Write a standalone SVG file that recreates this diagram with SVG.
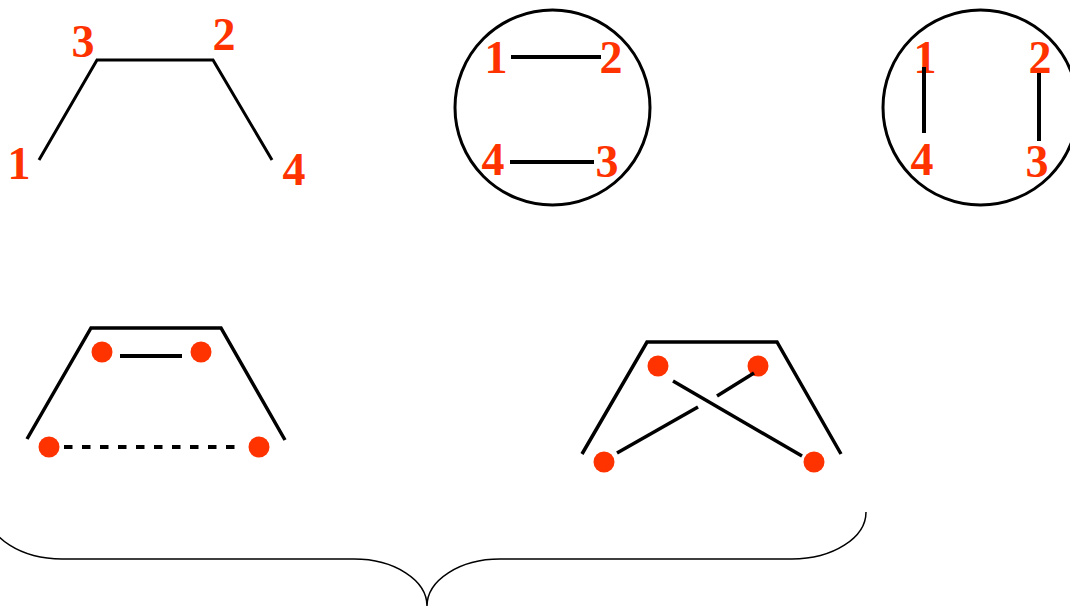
<svg xmlns="http://www.w3.org/2000/svg" width="1070" height="606" viewBox="0 0 1070 606">
<style>
.lbl{font-family:"Liberation Serif","Times New Roman",serif;font-weight:bold;font-size:46px;fill:#FF3300;text-anchor:middle}
.ln{stroke:#000;stroke-width:3;fill:none}
.lm{stroke:#000;stroke-width:3.5;fill:none}
.lw{stroke:#000;stroke-width:4;fill:none}
.dot{fill:#FF3300}
</style>
<rect width="1070" height="606" fill="#fff"/>
<g id="chain">
<polyline class="ln" points="39,160 97,60 213,60 272,160"/>
<text class="lbl" x="19" y="179">1</text>
<text class="lbl" x="83" y="57">3</text>
<text class="lbl" x="224" y="50">2</text>
<text class="lbl" x="294" y="185">4</text>
</g>
<g id="ring1">
<circle cx="552.5" cy="107.5" r="97.5" fill="none" stroke="#000" stroke-width="3"/>
<text class="lbl" x="496" y="73">1</text>
<text class="lbl" x="611" y="73">2</text>
<text class="lbl" x="493" y="175">4</text>
<text class="lbl" x="607" y="177">3</text>
<line class="lw" x1="511" y1="57" x2="601" y2="57"/>
<line class="lw" x1="510" y1="162" x2="594" y2="162"/>
</g>
<g id="ring2">
<circle cx="980.5" cy="107.5" r="97.5" fill="none" stroke="#000" stroke-width="3"/>
<text class="lbl" x="925" y="73">1</text>
<text class="lbl" x="1040" y="73">2</text>
<text class="lbl" x="922" y="175">4</text>
<text class="lbl" x="1037" y="177">3</text>
<line class="lw" x1="924" y1="67" x2="924" y2="133"/>
<line class="lw" x1="1039" y1="73" x2="1039" y2="141"/>
</g>
<g id="parallel">
<polyline class="lm" points="27,439 91,328 221,328 285,440"/>
<circle class="dot" cx="102" cy="352" r="10.5"/>
<circle class="dot" cx="201" cy="352" r="10.5"/>
<circle class="dot" cx="49" cy="447" r="10.5"/>
<circle class="dot" cx="259" cy="447" r="10.5"/>
<line class="lw" x1="120" y1="356" x2="182" y2="356"/>
<line class="lw" x1="64" y1="447" x2="243" y2="447" stroke-dasharray="8.5 9.5"/>
</g>
<g id="crossed">
<polyline class="lm" points="582,454 647,342 777,342 841,454"/>
<circle class="dot" cx="658" cy="366" r="10.5"/>
<circle class="dot" cx="758" cy="366" r="10.5"/>
<circle class="dot" cx="604" cy="462" r="10.5"/>
<circle class="dot" cx="814" cy="462" r="10.5"/>
<line class="lm" x1="673" y1="381" x2="802" y2="456"/>
<line class="lm" x1="617" y1="453" x2="698" y2="407"/>
<line class="lm" x1="717" y1="396" x2="754" y2="373"/>
</g>
<g id="connectors">
<path d="M866,512 A74,47 0 0 1 792,559 L500,559 A73,47 0 0 0 427,606 A73,47 0 0 0 354,559 L62,559 A74,47 0 0 1 -12,512" fill="none" stroke="#000" stroke-width="1.5"/>
</g>
</svg>
